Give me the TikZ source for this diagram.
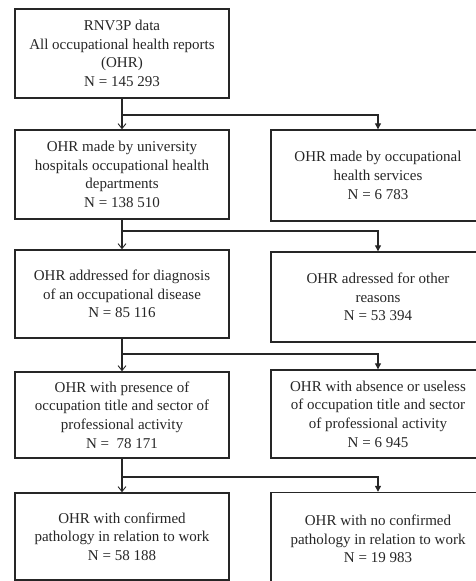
\documentclass[tikz,border=0pt]{standalone}
\usepackage{fontspec}
\setmainfont{Liberation Serif}
\usetikzlibrary{arrows.meta}
\tikzset{
  box/.style={draw=black!85, line width=1.4pt, minimum width=214pt, align=center, inner sep=2pt,
    font=\fontsize{15}{18.7}\selectfont, text=black!85},
  conn/.style={draw=black!85, line width=1.1pt},
  openarr/.style={conn, -{Straight Barb[length=5pt,width=8pt,line width=0.9pt]}},
  fillarr/.style={conn, -{Triangle[length=6pt,width=6pt]}}
}
\begin{document}
\begin{tikzpicture}[x=1pt,y=1pt]
\useasboundingbox (0,0) rectangle (475,-581);
\node[box, minimum height=89pt] (b1) at (122,-53.5) {RNV3P data\\All occupational health reports\\(OHR)\\N = 145 293};
\node[box, minimum height=89pt] (l2) at (122,-174.5) {OHR made by university\\hospitals occupational health\\departments\\N = 138 510};
\node[box, minimum height=91pt] (r2) at (378,-175.5) {OHR made by occupational\\health services\\N = 6 783};
\node[box, minimum height=88pt] (l3) at (122,-294) {OHR addressed for diagnosis\\of an occupational disease\\N = 85 116};
\node[box, minimum height=90pt] (r3) at (378,-297) {OHR adressed for other\\reasons\\N = 53 394};
\node[box, minimum height=86pt] (l4) at (122,-415) {OHR with presence of\\occupation title and sector of\\professional activity\\N =\ \ 78 171};
\node[box, minimum height=88pt] (r4) at (378,-414) {OHR with absence or useless\\of occupation title and sector\\of professional activity\\N = 6 945};
\node[box, minimum height=87pt] (l5) at (122,-536.5) {OHR with confirmed\\pathology in relation to work\\N = 58 188};
\node[box, minimum height=93pt] (r5) at (378,-539) {OHR with no confirmed\\pathology in relation to work\\N = 19 983};
\coordinate (j1) at (122,-115);
\coordinate (j2) at (122,-231);
\coordinate (j3) at (122,-354);
\coordinate (j4) at (122,-477);
\draw[openarr] (b1.south) -- (l2.north);
\draw[fillarr] (j1) -| (r2.north);
\draw[openarr] (l2.south) -- (l3.north);
\draw[fillarr] (j2) -| (r3.north);
\draw[openarr] (l3.south) -- (l4.north);
\draw[fillarr] (j3) -| (r4.north);
\draw[openarr] (l4.south) -- (l5.north);
\draw[fillarr] (j4) -| (r5.north);
\end{tikzpicture}
\end{document}
